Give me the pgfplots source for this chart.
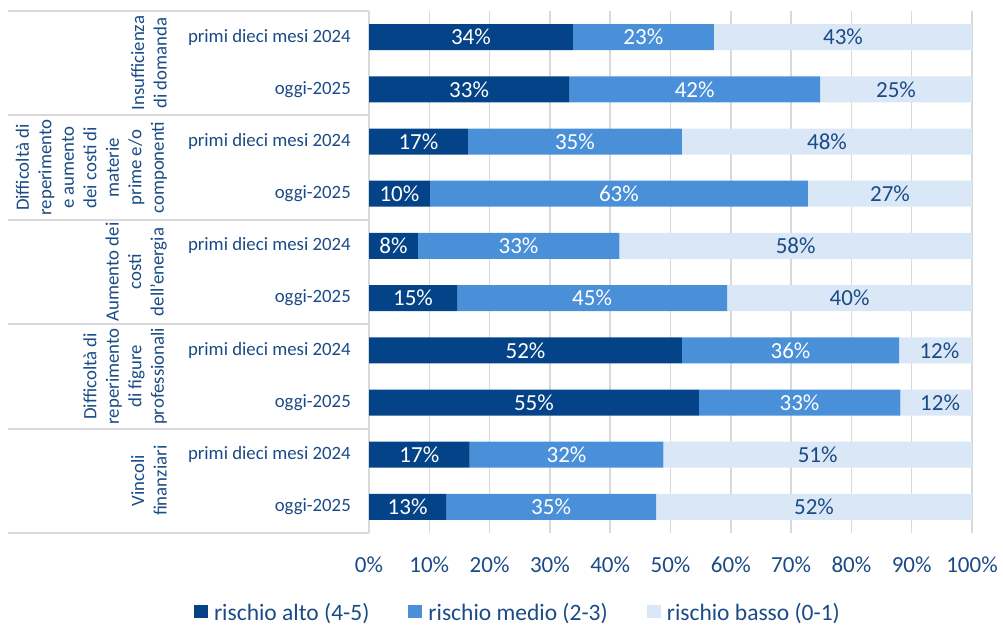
\documentclass[border=0pt]{standalone}
\usepackage{fontspec}
\setmainfont{Carlito}
\usepackage{pgfplots}
\usepackage{pgfplotstable}
\pgfplotsset{compat=1.18}
\definecolor{cdark}{HTML}{044388}
\definecolor{cmed}{HTML}{4A90D9}
\definecolor{clight}{HTML}{DAE7F6}
\definecolor{gridgray}{HTML}{D9D9D9}
\definecolor{textblue}{HTML}{1B4B86}

\pgfplotstableread{
y    alto medio basso
0.5  33.8 23.4 42.8
1.5  33.2 41.6 25.2
2.5  16.4 35.5 48.1
3.5  10.1 62.7 27.2
4.5  8.1  33.4 58.5
5.5  14.6 44.8 40.6
6.5  51.9 36.0 12.1
7.5  54.7 33.4 11.9
8.5  16.7 32.1 51.2
9.5  12.8 34.8 52.4
}\data

% label centres and printed values
\pgfplotstableread{
y    xa    la  xm    lm  xb    lb
0.5  16.9  34  45.5  23  78.6  43
1.5  16.6  33  54.0  42  87.4  25
2.5  8.2   17  34.15 35  75.95 48
3.5  5.05  10  41.45 63  86.4  27
4.5  4.05  8   24.8  33  70.75 58
5.5  7.3   15  37.0  45  79.7  40
6.5  25.95 52  69.9  36  94.6  12
7.5  27.35 55  71.4  33  94.7  12
8.5  8.35  17  32.75 32  74.4  51
9.5  6.4   13  30.2  35  73.8  52
}\labels

\begin{document}
\begin{tikzpicture}[x=1pt,y=1pt]
\path[use as bounding box] (0,0) rectangle (1003,-628);

\begin{axis}[
  at={(369pt,-533pt)}, anchor=south west,
  scale only axis, width=603pt, height=522pt,
  xbar stacked, bar width=26pt,
  xmin=0, xmax=100, ymin=0, ymax=10, y dir=reverse,
  axis line style={draw=none},
  major tick length=0pt,
  xtick={0,10,...,100},
  xmajorgrids, grid style={gridgray, line width=1.5pt},
  /pgf/number format/assume math mode=true,
  xticklabel={\pgfmathprintnumber{\tick}\%},
  xticklabel style={anchor=base, yshift=-39pt, inner sep=0pt,
     font=\fontsize{23}{27}\selectfont, text=textblue},
  ytick={0.5,1.5,...,9.5},
  yticklabels={primi dieci mesi 2024,oggi-2025,primi dieci mesi 2024,oggi-2025,primi dieci mesi 2024,oggi-2025,primi dieci mesi 2024,oggi-2025,primi dieci mesi 2024,oggi-2025},
  yticklabel style={anchor=east, inner sep=0pt, xshift=-18pt,
     font=\fontsize{18.8}{22.5}\selectfont, text=textblue},
  legend columns=3,
  legend style={at={(0.2454,-0.152)}, anchor=center, draw=none, fill=none,
     font=\fontsize{23.5}{27}\selectfont, text=textblue,
     nodes={inner sep=0pt},
     /tikz/every odd column/.append style={column sep=6pt},
     /tikz/every even column/.append style={column sep=39pt}},
  legend image code/.code={\fill[#1] (0pt,-6pt) rectangle (14pt,7pt);},
]
\addplot[fill=cdark, draw=none] table[x=alto, y=y] {\data};
\addplot[fill=cmed, draw=none] table[x=medio, y=y] {\data};
\addplot[fill=clight, draw=none] table[x=basso, y=y] {\data};
\legend{rischio alto (4-5),rischio medio (2-3),rischio basso (0-1)}
\end{axis}

\begin{axis}[
  at={(369pt,-533pt)}, anchor=south west,
  scale only axis, width=603pt, height=522pt,
  xmin=0, xmax=100, ymin=0, ymax=10, y dir=reverse,
  hide axis, clip=false,
  /pgf/number format/assume math mode=true,
  nodes near coords={\pgfmathprintnumber{\pgfplotspointmeta}\%},
  nodes near coords align={center},
  every node near coord/.append style={anchor=center, inner sep=0pt,
     font=\fontsize{23}{27}\selectfont},
]
\addplot[only marks, mark=*, mark size=0pt, mark options={draw=none,fill=none},
  point meta=explicit, every node near coord/.append style={text=white}]
  table[x=xa, y=y, meta=la] {\labels};
\addplot[only marks, mark=*, mark size=0pt, mark options={draw=none,fill=none},
  point meta=explicit, every node near coord/.append style={text=white}]
  table[x=xm, y=y, meta=lm] {\labels};
\addplot[only marks, mark=*, mark size=0pt, mark options={draw=none,fill=none},
  point meta=explicit, every node near coord/.append style={text=textblue}]
  table[x=xb, y=y, meta=lb] {\labels};
\end{axis}

% group separators
\foreach \yy in {11,115.4,219.8,324.2,428.6,533}
  \draw[gridgray, line width=2pt] (8,-\yy) -- (369,-\yy);

% group labels
\begin{scope}[every node/.style={rotate=90, anchor=south, inner sep=0pt, align=center,
   font=\fontsize{18.8}{22.5}\selectfont, text=textblue}]
\node at (167,-63.2) {Insufficienza\\di domanda};
\node at (167,-167.6) {Difficoltà di\\reperimento\\e aumento\\dei costi di\\materie\\prime e/o\\componenti};
\node at (167,-272) {Aumento dei\\costi\\dell’energia};
\node at (167,-376.4) {Difficoltà di\\reperimento\\di figure\\professionali};
\node at (167,-480.8) {Vincoli\\finanziari};
\end{scope}
\end{tikzpicture}
\end{document}
